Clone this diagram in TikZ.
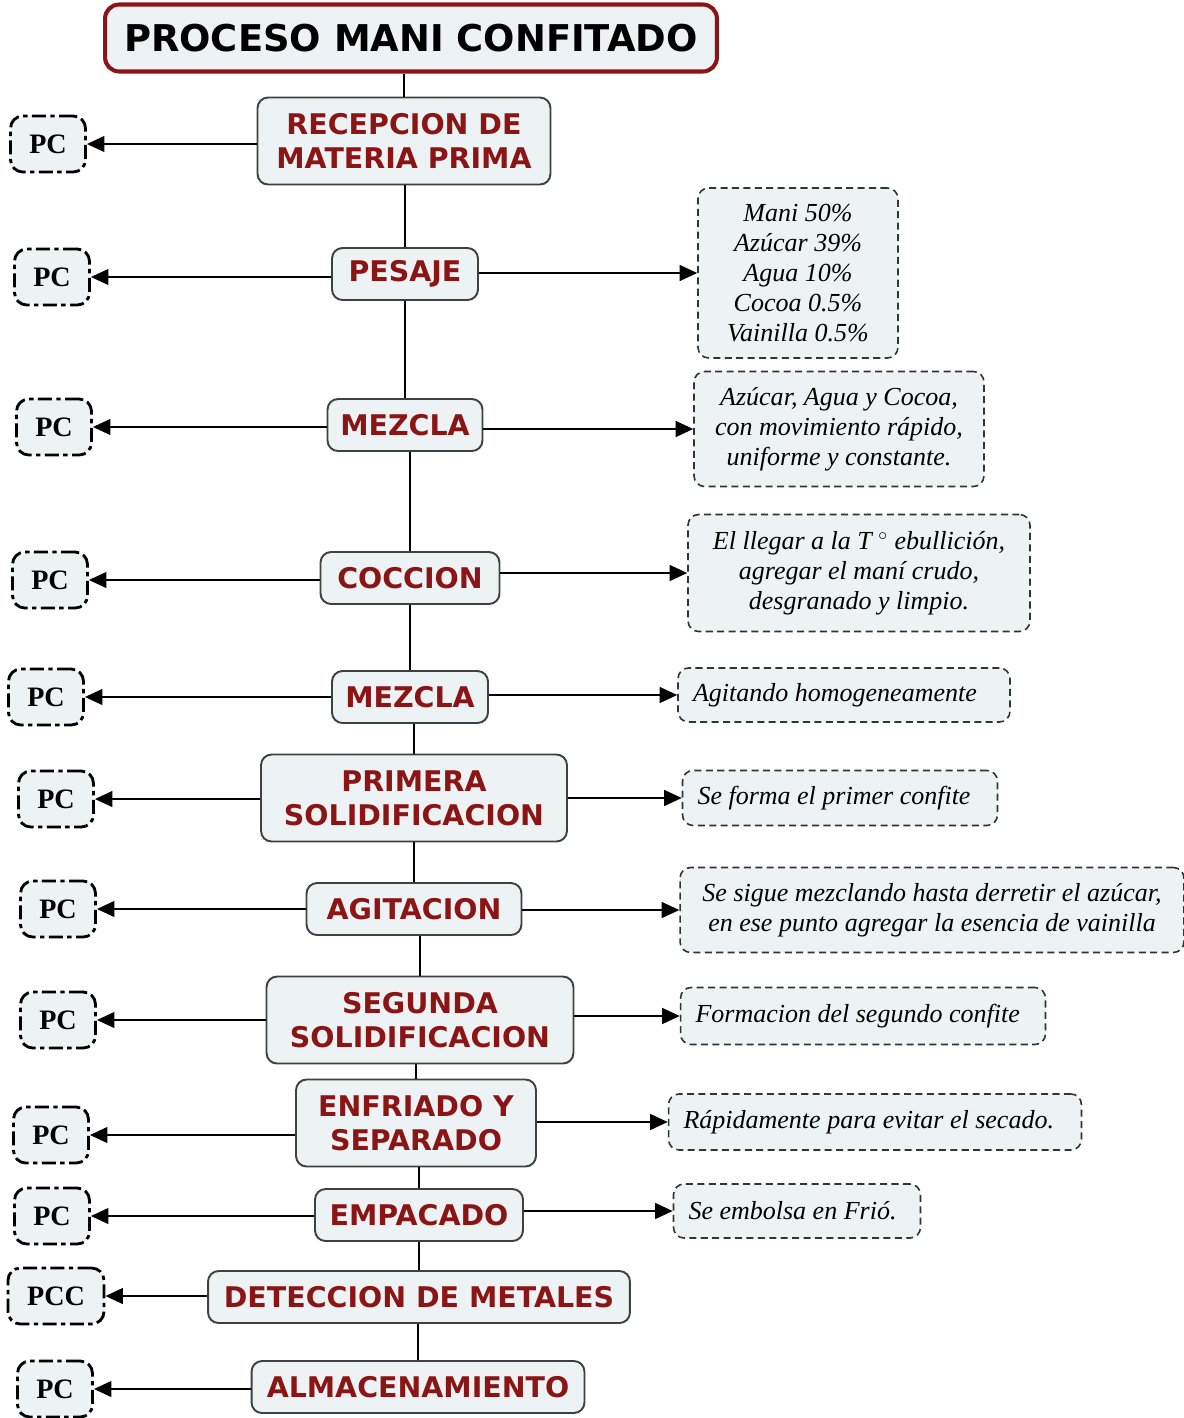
\documentclass[tikz,border=0pt]{standalone}
\usepackage{fontspec}
\setsansfont{DejaVu Sans}
\setmainfont{Liberation Serif}
\usetikzlibrary{arrows.meta}
\definecolor{vino}{HTML}{8B1414}
\definecolor{relleno}{HTML}{EDF2F4}

\begin{document}
\begin{tikzpicture}[x=0.02cm, y=-0.02cm, every node/.style={align=center},
  paso/.style={draw=black!75, line width=1.1pt, rounded corners=6pt, fill=relleno, text=vino,
    font=\sffamily\bfseries\fontsize{16.2}{19.3}\selectfont, minimum height=1.04cm},
  doble/.style={minimum height=1.74cm},
  pcbox/.style={draw, line width=1.6pt, rounded corners=7pt, fill=relleno,
    dash pattern=on 8pt off 2.5pt on 2.5pt off 2.5pt, font=\bfseries\fontsize{16}{19}\selectfont,
    minimum width=1.5cm, minimum height=1.12cm},
  nota/.style={draw=black!80, line width=0.9pt, rounded corners=6pt, fill=relleno,
    dash pattern=on 4pt off 2.5pt, font=\itshape\fontsize{14.8}{17}\selectfont},
  notauna/.style={nota, align=flush left, inner xsep=0.3cm},
  linea/.style={line width=1.1pt},
  flecha/.style={-{Triangle[length=10pt,width=9pt]}, line width=1.1pt}]
  \useasboundingbox (0,0) rectangle (1184,1418);

  % titulo
  \node[draw=vino, line width=2.3pt, rounded corners=8pt, fill=relleno,
    font=\sffamily\bfseries\fontsize{21}{24}\selectfont,
    minimum width=12.24cm, minimum height=1.34cm] (titulo) at (411,38) {PROCESO MANI CONFITADO};

  % pasos del proceso
  \node[paso, doble, minimum width=5.86cm] (s1) at (404,141) {RECEPCION DE\\MATERIA PRIMA};
  \node[paso, minimum width=2.92cm] (s2) at (405,274) {PESAJE};
  \node[paso, minimum width=3.1cm] (s3) at (405,425) {MEZCLA};
  \node[paso, minimum width=3.58cm] (s4) at (410,578) {COCCION};
  \node[paso, minimum width=3.12cm] (s5) at (410,697) {MEZCLA};
  \node[paso, doble, minimum width=6.12cm] (s6) at (414,798) {PRIMERA\\SOLIDIFICACION};
  \node[paso, minimum width=4.3cm] (s7) at (414,909) {AGITACION};
  \node[paso, doble, minimum width=6.14cm] (s8) at (420,1020) {SEGUNDA\\SOLIDIFICACION};
  \node[paso, doble, minimum width=4.8cm] (s9) at (416,1123) {ENFRIADO Y\\SEPARADO};
  \node[paso, minimum width=4.16cm] (s10) at (419,1215) {EMPACADO};
  \node[paso, minimum width=8.44cm] (s11) at (419,1297) {DETECCION DE METALES};
  \node[paso, minimum width=6.66cm] (s12) at (418,1387) {ALMACENAMIENTO};

  % puntos de control
  \node[pcbox] (pc1) at (48,144) {PC};
  \node[pcbox] (pc2) at (52,277) {PC};
  \node[pcbox] (pc3) at (54,427) {PC};
  \node[pcbox] (pc4) at (50,580) {PC};
  \node[pcbox] (pc5) at (46,697) {PC};
  \node[pcbox] (pc6) at (56,799) {PC};
  \node[pcbox] (pc7) at (58,909) {PC};
  \node[pcbox] (pc8) at (58,1020) {PC};
  \node[pcbox] (pc9) at (51,1135) {PC};
  \node[pcbox] (pc10) at (52,1216) {PC};
  \node[pcbox, minimum width=1.92cm] (pc11) at (56,1296) {PCC};
  \node[pcbox] (pc12) at (55,1389) {PC};

  % notas
  \node[nota, minimum width=4cm, minimum height=3.4cm] (n2) at (798,273)
    {Mani 50\%\\Azúcar 39\%\\Agua 10\%\\Cocoa 0.5\%\\Vainilla 0.5\%};
  \node[nota, minimum width=5.8cm, minimum height=2.3cm] (n3) at (839,429)
    {Azúcar, Agua y Cocoa,\\con movimiento rápido,\\uniforme y constante.};
  \node[nota, minimum width=6.84cm, minimum height=2.34cm] (n4) at (859,573)
    {El llegar a la T $^{\circ}$ ebullición,\\agregar el maní crudo,\\desgranado y limpio.};
  \node[notauna, text width=6.04cm, minimum height=1.08cm] (n5) at (844,695) {Agitando homogeneamente};
  \node[notauna, text width=5.7cm, minimum height=1.1cm] (n6) at (840,798) {Se forma el primer confite};
  \node[nota, minimum width=10.08cm, minimum height=1.7cm] (n7) at (932,910)
    {Se sigue mezclando hasta derretir el azúcar,\\en ese punto agregar la esencia de vainilla};
  \node[notauna, text width=6.7cm, minimum height=1.14cm] (n8) at (863,1016) {Formacion del segundo confite};
  \node[notauna, text width=7.66cm, minimum height=1.12cm] (n9) at (875,1122) {Rápidamente para evitar el secado.};
  \node[notauna, text width=4.34cm, minimum height=1.08cm] (n10) at (797,1211) {Se embolsa en Frió.};

  % eje vertical
  \foreach \a/\b in {titulo/s1, s1/s2, s2/s3, s3/s4, s4/s5, s5/s6, s6/s7, s7/s8, s8/s9, s9/s10, s10/s11, s11/s12}
    \draw[linea] (\b.north) -- (\b.north |- \a.south);

  % flechas a los puntos de control
  \foreach \i in {1,...,12}
    \draw[flecha] (s\i.west |- pc\i) -- (pc\i.east);

  % flechas a las notas
  \foreach \i in {2,...,10}
    \draw[flecha] (s\i.east |- n\i) -- (n\i.west);
\end{tikzpicture}
\end{document}
